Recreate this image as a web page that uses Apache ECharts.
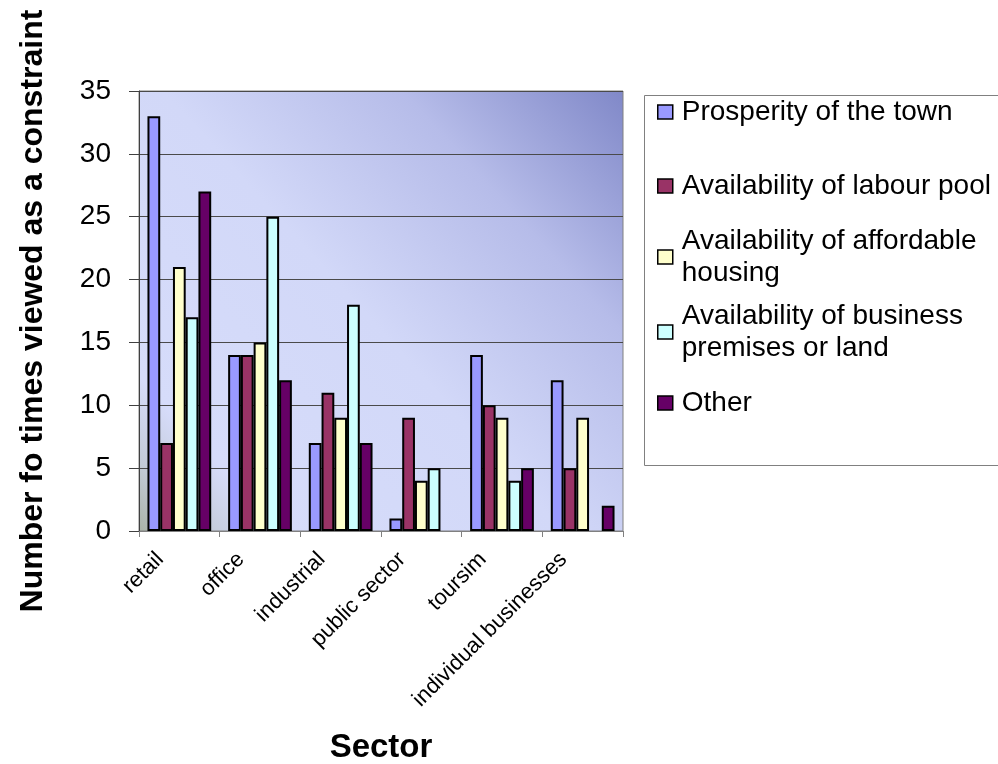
<!DOCTYPE html>
<html><head><meta charset="utf-8">
<script src="https://cdn.jsdelivr.net/npm/echarts@6/dist/echarts.min.js"></script>
<style>html,body{margin:0;padding:0;background:#fff}#c{width:998px;height:764px}</style>
</head><body><div id="c"></div>
<script>
// ---- data ----
const categories = ['retail', 'office', 'industrial', 'public sector', 'toursim', 'individual businesses'];
const seriesNames = ['Prosperity of the town', 'Availability of labour pool', 'Availability of affordable housing', 'Availability of business premises or land', 'Other'];
const legendLabels = ['Prosperity of the town', 'Availability of labour pool', 'Availability of affordable\nhousing', 'Availability of business\npremises or land', 'Other'];
const prosperity = [33, 14, 7, 1, 14, 12];
const labourPool = [7, 14, 11, 9, 10, 5];
const housing = [21, 15, 9, 4, 9, 9];
const premises = [17, 25, 18, 5, 4, 0];
const other = [27, 12, 7, 0, 5, 2];
const yMin = 0, yMax = 35, yInterval = 5;
const yTitle = 'Number fo times viewed as a constraint';
const xTitle = 'Sector';

// ---- style ----
const colors = ['#9999FF', '#993366', '#FFFFCC', '#CCFFFF', '#660066'];
const values = [prosperity, labourPool, housing, premises, other];
const FONT = 'Arial, "Liberation Sans", sans-serif';
const legendTops = [96, 170, 209, 284, 387];

const chart = echarts.init(document.getElementById('c'), null, {renderer: 'canvas'});

const series = seriesNames.map((n, i) => ({
  name: n,
  type: 'bar',
  data: values[i].map(v => v === 0 ? {value: v, itemStyle: {borderWidth: 0}} : v),
  barGap: '0%',
  barCategoryGap: '21%',
  itemStyle: {color: colors[i], borderColor: '#000', borderWidth: 2},
  emphasis: {disabled: true}
}));

const legends = seriesNames.map((n, i) => {
  const twoLine = legendLabels[i].indexOf('\n') >= 0;
  return {
    show: true,
    orient: 'vertical',
    left: 657,
    top: legendTops[i],
    padding: 0,
    data: [n],
    itemWidth: 15,
    itemHeight: 14,
    icon: 'rect',
    selectedMode: false,
    itemStyle: {borderColor: '#000', borderWidth: 1.5},
    formatter: () => legendLabels[i],
    textStyle: {
      fontFamily: FONT, fontSize: 28, color: '#000', lineHeight: 32,
      padding: twoLine ? [32, 0, 0, 4] : [0, 0, 0, 4]
    }
  };
});

chart.setOption({
  animation: false,
  backgroundColor: '#fff',
  grid: {
    left: 139, top: 91, width: 484, height: 440,
    outerBoundsMode: 'none',
    containLabel: false,
    show: true,
    borderColor: '#808080', borderWidth: 1,
    backgroundColor: new echarts.graphic.LinearGradient(0, 1, 1, 0, [
      {offset: 0, color: '#a9b3a6'},
      {offset: 0.07, color: '#c2cad6'},
      {offset: 0.16, color: '#d6dcfa'},
      {offset: 0.48, color: '#d2d8f8'},
      {offset: 0.75, color: '#b6bce9'},
      {offset: 1, color: '#8088c8'}
    ])
  },
  legend: legends,
  graphic: [{
    type: 'rect', left: 642, top: 93, silent: true,
    shape: {width: 380, height: 370},
    style: {fill: 'none', stroke: '#808080', lineWidth: 1}
  }],
  xAxis: {
    type: 'category',
    data: categories,
    name: xTitle,
    nameLocation: 'middle',
    nameGap: 200,
    nameTextStyle: {fontFamily: FONT, fontSize: 33, fontWeight: 'bold', color: '#000'},
    axisLine: {lineStyle: {color: '#808080', width: 1}},
    axisTick: {show: true, length: 6, lineStyle: {color: '#808080'}},
    axisLabel: {
      interval: 0, rotate: 45, margin: 6,
      fontFamily: FONT, fontSize: 22, color: '#000',
      padding: [0, 27, 0, 0]
    },
    splitLine: {show: false}
  },
  yAxis: {
    type: 'value',
    min: yMin, max: yMax, interval: yInterval,
    name: yTitle,
    nameLocation: 'middle',
    nameGap: 90,
    nameTextStyle: {fontFamily: FONT, fontSize: 32, fontWeight: 'bold', color: '#000'},
    axisLine: {show: true, lineStyle: {color: '#404040', width: 1}},
    axisTick: {show: true, length: 10, lineStyle: {color: '#404040'}},
    axisLabel: {fontFamily: FONT, fontSize: 28, color: '#000', margin: 28},
    splitLine: {show: true, lineStyle: {color: '#4a4a4a', width: 1}}
  },
  series: series
});
</script></body></html>
